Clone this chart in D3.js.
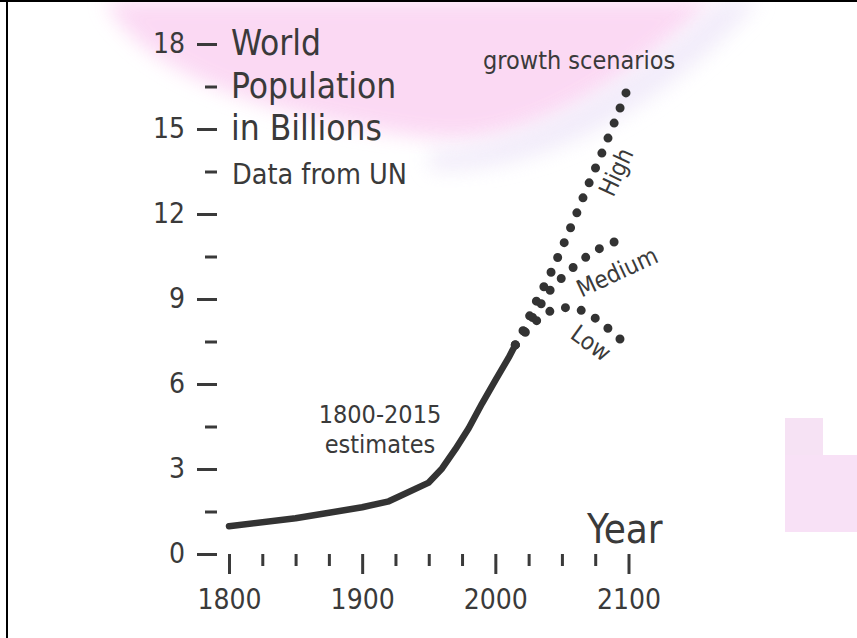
<!DOCTYPE html>
<html><head><meta charset="utf-8">
<script src="https://cdn.jsdelivr.net/npm/d3@7"></script>
<style>
html,body{margin:0;padding:0;background:#fff;}
svg{display:block;}
text{font-family:"DejaVu Sans Condensed","DejaVu Sans",sans-serif;font-stretch:condensed;fill:#3a3a3a;}
</style></head>
<body>
<script>
// ---- data ----
const estYears = [1800,1850,1900,1920,1950,1960,1970,1980,1990,2000,2010,2015];
const estValues = [0.98,1.26,1.65,1.86,2.52,3.02,3.7,4.44,5.31,6.13,6.93,7.38];
const projYears = [2015,2020,2030,2040,2050,2060,2070,2080,2090,2100];
const highValues = [7.38,7.8,8.85,9.75,10.8,11.9,13.05,14.15,15.3,16.5];
const mediumValues = [7.38,7.75,8.5,9.25,9.75,10.18,10.55,10.83,11.03,11.2];
const lowValues = [7.38,7.7,8.2,8.55,8.7,8.68,8.5,8.15,7.75,7.3];
const yMajorTicks = [0,3,6,9,12,15,18];
const yMinorTicks = [1.5,4.5,7.5,10.5,13.5,16.5];
const xMajorTicks = [1800,1900,2000,2100];
const xMinorTicks = [1825,1850,1875,1925,1950,1975,2025,2050,2075];
const titleLines = ["World","Population","in Billions"];
const subtitle = "Data from UN";

const W = 857, H = 638;
const svg = d3.select("body").append("svg").attr("width", W).attr("height", H);

// background decoration (faint pink shapes)
const defs = svg.append("defs");
defs.append("filter").attr("id","blur").append("feGaussianBlur").attr("stdDeviation", 10);
svg.append("path")
  .attr("d","M105,0 C140,75 280,120 430,138 C540,150 640,70 715,0 Z")
  .attr("fill","#fbd3f2").attr("opacity",0.85).attr("filter","url(#blur)");
svg.append("path")
  .attr("d","M430,150 C520,150 640,80 720,0 L760,0 C680,90 560,175 430,170 Z")
  .attr("fill","#ece4f8").attr("opacity",0.7).attr("filter","url(#blur)");
svg.append("rect").attr("x",785).attr("y",418).attr("width",38).attr("height",40).attr("fill","#f6e2f4");
svg.append("rect").attr("x",785).attr("y",455).attr("width",72).attr("height",77).attr("fill","#f8e1f6");

// borders
svg.append("line").attr("x1",0).attr("x2",W).attr("y1",1).attr("y2",1).attr("stroke","#000").attr("stroke-width",2);
svg.append("line").attr("x1",7).attr("x2",7).attr("y1",0).attr("y2",H).attr("stroke","#000").attr("stroke-width",2);

// scales
const x = d3.scaleLinear().domain([1800,2100]).range([229,628.5]);
const y = d3.scaleLinear().domain([0,18]).range([554,44]);

const axColor = "#3a3a3a";
// y axis
const yMaj = svg.append("g").attr("transform","translate(217,0)")
  .call(d3.axisLeft(y).tickValues(yMajorTicks).tickSize(20).tickPadding(12).tickFormat(d3.format("d")));
const yMin = svg.append("g").attr("transform","translate(217,0)")
  .call(d3.axisLeft(y).tickValues(yMinorTicks).tickSize(12).tickFormat(""));
// x axis
const xMaj = svg.append("g").attr("transform","translate(0,554)")
  .call(d3.axisBottom(x).tickValues(xMajorTicks).tickSize(20).tickPadding(15).tickFormat(d3.format("d")));
const xMin = svg.append("g").attr("transform","translate(0,554)")
  .call(d3.axisBottom(x).tickValues(xMinorTicks).tickSize(12).tickFormat(""));
[yMaj,yMin,xMaj,xMin].forEach(g=>{
  g.select(".domain").remove();
  g.selectAll(".tick line").attr("stroke",axColor).attr("stroke-width",3);
  g.selectAll(".tick text").attr("font-size",28).attr("fill",axColor)
    .attr("font-family",null);
});

// title
svg.append("text").attr("x",231).attr("y",55).attr("font-size",35).text(titleLines[0]);
svg.append("text").attr("x",231).attr("y",98).attr("font-size",35).text(titleLines[1]);
svg.append("text").attr("x",231).attr("y",140).attr("font-size",35).text(titleLines[2]);
svg.append("text").attr("x",232).attr("y",184).attr("font-size",28.5).text(subtitle);

// estimate line
const line = d3.line().x(d=>x(d[0])).y(d=>y(d[1]));
svg.append("path").datum(estYears.map((yr,i)=>[yr,estValues[i]]))
  .attr("d",line).attr("fill","none").attr("stroke","#333")
  .attr("stroke-width",6.5).attr("stroke-linecap","round").attr("stroke-linejoin","round");

// scenarios (dotted)
[highValues,mediumValues,lowValues].forEach(vals=>{
  svg.append("path").datum(projYears.map((yr,i)=>[yr,vals[i]]))
    .attr("d",line).attr("fill","none").attr("stroke","#333")
    .attr("stroke-width",9).attr("stroke-linecap","round")
    .attr("stroke-dasharray","0 16.2");
});

// annotations
svg.append("text").attr("x",483).attr("y",69).attr("font-size",25).text("growth scenarios");
svg.append("text").attr("x",380).attr("y",423).attr("font-size",25).attr("text-anchor","middle").text("1800-2015");
svg.append("text").attr("x",380).attr("y",453).attr("font-size",25).attr("text-anchor","middle").text("estimates");
svg.append("text").attr("x",587).attr("y",543).attr("font-size",40).text("Year");

const rot = (t, cx, cy, ang) => svg.append("text")
  .attr("transform",`translate(${cx},${cy}) rotate(${ang})`)
  .attr("text-anchor","middle").attr("dy","0.35em").attr("font-size",24).text(t);
rot("High", 616, 172, -65);
rot("Medium", 617, 272, -25);
rot("Low", 591, 343, 36);
</script>
</body></html>
